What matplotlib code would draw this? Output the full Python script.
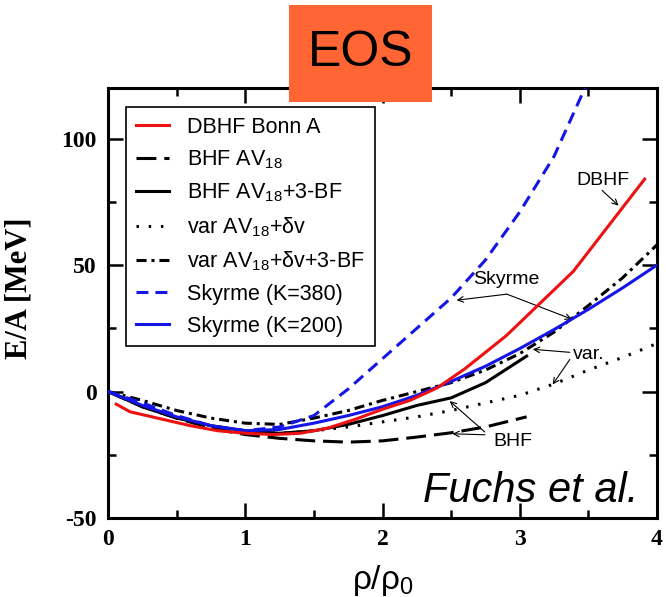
import matplotlib
matplotlib.use('Agg')
import matplotlib.pyplot as plt
from matplotlib.patches import Rectangle

plt.rcParams['mathtext.default'] = 'regular'
plt.rcParams['axes.unicode_minus'] = False

# density grids (rho/rho0) and E/A values [MeV]
rho_q = [0, 0.25, 0.5, 0.75, 1.0, 1.25, 1.5, 1.75, 2.0, 2.25, 2.5, 2.75, 3.0, 3.25, 3.5, 3.75, 4.0]

rho_dbhf = [0.06, 0.16, 0.4, 0.6, 0.8, 1.0, 1.2, 1.4, 1.6, 1.8, 2.0, 2.2, 2.4, 2.6, 2.9, 3.39, 3.91]
e_dbhf = [-5, -8, -11, -13.5, -15.5, -16.5, -17, -16.5, -14.5, -11, -7, -3.5, 1.5, 9, 22, 47.5, 84]

rho_bhf = [0, 0.25, 0.5, 0.75, 1.0, 1.25, 1.5, 1.75, 2.0, 2.25, 2.5, 2.75, 3.05]
e_bhf = [0, -6, -10.5, -14.5, -17, -18.5, -19.5, -20, -19.5, -18, -16.3, -14, -10]
e_bhf3 = [0, -6, -10.5, -13.5, -15.5, -16.5, -15.5, -13, -9.5, -5.5, -2.5, 3.5, 14]

e_var = [0, -6, -10.5, -14, -16, -16.5, -15.5, -14, -12, -10, -7.5, -4.5, -1.5, 3, 8.5, 13.5, 19]
e_var3 = [0, -3.5, -7.5, -10.5, -12.5, -13, -10.5, -7.5, -3.5, 0, 3.5, 8.5, 15, 23.5, 34, 45, 58]
e_sky200 = [0, -5.5, -10, -13.5, -15.5, -15, -12.5, -9.5, -6, -1.5, 4, 10, 17, 24.5, 32.5, 41, 50]

rho_sky380 = [0, 0.25, 0.5, 0.75, 1.0, 1.25, 1.5, 1.75, 2.0, 2.25, 2.5, 2.75, 3.0, 3.25, 3.5, 3.6]
e_sky380 = [0, -4.5, -9.5, -13.5, -15.5, -14, -9.5, 1, 13, 25, 37, 52, 71, 93, 123, 137]

labels = ['DBHF Bonn A', 'BHF AV$_{18}$', 'BHF AV$_{18}$+3-BF', 'var AV$_{18}$+δv',
          'var AV$_{18}$+δv+3-BF', 'Skyrme (K=380)', 'Skyrme (K=200)']

fig = plt.figure(figsize=(6.66, 5.97), dpi=100)
ax = fig.add_axes([0.1622, 0.1323, 0.8243, 0.7203])

lw = 2.2
ax.plot(rho_dbhf, e_dbhf, color='#ee1111', lw=lw, label=labels[0], zorder=5)
ax.plot(rho_bhf, e_bhf, color='black', lw=lw, dashes=(6.5, 2.6), label=labels[1], zorder=3)
ax.plot(rho_bhf, e_bhf3, color='black', lw=lw, label=labels[2], zorder=3)
ax.plot(rho_q, e_var, color='black', lw=lw, dashes=(0.8, 3.2), label=labels[3], zorder=3)
ax.plot(rho_q, e_var3, color='black', lw=lw, dashes=(3.3, 1.6, 1.0, 1.6), label=labels[4], zorder=3)
ax.plot(rho_sky380, e_sky380, color='#1515e6', lw=lw, dashes=(3.9, 2.3), label=labels[5], zorder=4)
ax.plot(rho_q, e_sky200, color='#1515e6', lw=lw, label=labels[6], zorder=4)

ax.set_xlim(0, 4)
ax.set_ylim(-50, 120)
ax.set_xticks([0, 1, 2, 3, 4])
ax.set_xticks([0.5, 1.5, 2.5, 3.5], minor=True)
ax.set_yticks([-50, 0, 50, 100])
ax.set_yticks([-25, 25, 75], minor=True)
ax.tick_params(which='both', direction='in', top=True, right=True, width=1.8)
ax.tick_params(which='major', length=11, pad=8)
ax.tick_params(which='minor', length=5.5)
for s in ax.spines.values():
    s.set_linewidth(2.2)
for t in ax.get_xticklabels() + ax.get_yticklabels():
    t.set_fontfamily('Liberation Serif')
    t.set_fontweight('bold')
    t.set_fontsize(17)

ax.set_xlabel('ρ/ρ$_0$', fontsize=24, family='Liberation Sans')
ax.xaxis.set_label_coords(0.5, -0.105)
ax.set_ylabel('E/A [MeV]', fontsize=22, family='Liberation Serif', fontweight='bold')
ax.yaxis.set_label_coords(-0.135, 0.535)

leg = ax.legend(loc='upper left', bbox_to_anchor=(0.033, 0.956), borderaxespad=0,
                prop={'family': 'Liberation Sans', 'size': 15.5}, fancybox=False,
                handlelength=1.55, handletextpad=0.85, labelspacing=0.5,
                borderpad=0.45, framealpha=1)
leg.get_frame().set_edgecolor('black')
leg.get_frame().set_linewidth(1.2)

akw = dict(fontsize=14, family='Liberation Sans', ha='center', va='center')
apr = dict(arrowstyle='->', color='black', lw=0.8, shrinkA=0, shrinkB=0)
ax.text(3.605, 83.3, 'DBHF', **akw)
ax.annotate('', xy=(3.72, 73.5), xytext=(3.6, 79.5), arrowprops=apr)
ax.text(2.90, 44.4, 'Skyrme', **akw)
ax.annotate('', xy=(2.54, 36.1), xytext=(2.906, 38.5), arrowprops=apr)
ax.annotate('', xy=(3.38, 28.6), xytext=(2.906, 38.5), arrowprops=apr)
ax.text(3.50, 14.7, 'var.', **akw)
ax.annotate('', xy=(3.095, 16.7), xytext=(3.365, 15.5), arrowprops=apr)
ax.annotate('', xy=(3.24, 2.8), xytext=(3.365, 12.7), arrowprops=apr)
ax.text(2.95, -19.8, 'BHF', **akw)
ax.annotate('', xy=(2.51, -16.7), xytext=(2.746, -17.1), arrowprops=apr)
ax.annotate('', xy=(2.49, -3.8), xytext=(2.746, -16.0), arrowprops=apr)

ax.text(3.862, -43.6, 'Fuchs et al.', fontsize=30, family='Liberation Sans',
        style='italic', ha='right', va='baseline')

# orange title box on top of the frame
fig.patches.append(Rectangle((289 / 666, 1 - 102 / 597), 143 / 666, 97 / 597,
                             transform=fig.transFigure, facecolor='#ff6633',
                             edgecolor='none', zorder=10))
fig.text(360.5 / 666, 1 - 53 / 597, 'EOS', fontsize=36, family='Liberation Sans',
         ha='center', va='center', zorder=11)

fig.savefig('out.png', dpi=100)
